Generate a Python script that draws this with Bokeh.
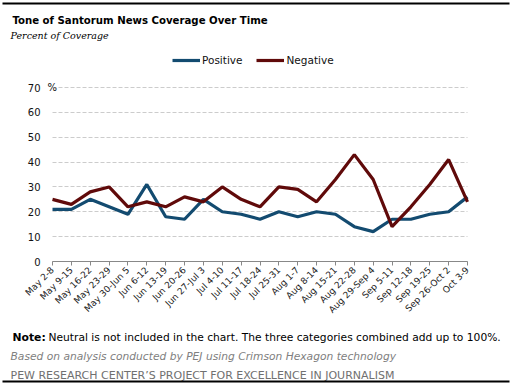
import math
from bokeh.plotting import figure
from bokeh.models import (Range1d, Label, Legend, LegendItem, FixedTicker,
                          ColumnDataSource, BoxAnnotation)
from bokeh.embed import file_html
from bokeh.resources import INLINE

weeks = ["May 2-8", "May 9-15", "May 16-22", "May 23-29", "May 30-Jun 5",
         "Jun 6-12", "Jun 13-19", "Jun 20-26", "Jun 27-Jul 3", "Jul 4-10",
         "Jul 11-17", "Jul 18-24", "Jul 25-31", "Aug 1-7", "Aug 8-14",
         "Aug 15-21", "Aug 22-28", "Aug 29-Sep 4", "Sep 5-11", "Sep 12-18",
         "Sep 19-25", "Sep 26-Oct 2", "Oct 3-9"]
positive = [21, 21, 25, 22, 19, 31, 18, 17, 25, 20, 19, 17, 20, 18, 20,
            19, 14, 12, 17, 17, 19, 20, 26]
negative = [25, 23, 28, 30, 22, 24, 22, 26, 24, 30, 25, 22, 30, 29, 24,
            33, 43, 33, 14, 22, 31, 41, 24]
y_ticks = [0, 10, 20, 30, 40, 50, 60, 70]

W, H = 513, 387
FONT = "DejaVu Sans"

# plot area in canvas pixels
PL, PR, PT, PB = 52, 467, 87, 261
n = len(weeks)
ymax = y_ticks[-1]
sx = (PR - PL) / (n - 1)
sy = (PB - PT) / ymax
x_range = Range1d(0 - PL / sx, (n - 1) + (W - PR) / sx)
y_range = Range1d(0 - (H - PB) / sy, ymax + PT / sy)

p = figure(width=W, height=H, output_backend="svg", toolbar_location=None,
           x_range=x_range, y_range=y_range,
           min_border_left=0, min_border_right=0, min_border_top=0,
           min_border_bottom=0)
p.title.visible = False
p.outline_line_color = None
p.background_fill_color = "white"
p.border_fill_color = "white"

xs = list(range(n))
src = ColumnDataSource(dict(x=xs, pos=positive, neg=negative))
r_pos = p.line("x", "pos", source=src, line_color="#134B70", line_width=3.2)
r_neg = p.line("x", "neg", source=src, line_color="#600A0A", line_width=3.2)

# axes fixed inside the canvas
p.xaxis.fixed_location = 0
p.xaxis.bounds = (0, n - 1)
p.xaxis.ticker = FixedTicker(ticks=xs)
p.xaxis.major_label_overrides = {i: w for i, w in enumerate(weeks)}
p.xaxis.major_label_orientation = math.pi / 4
p.xaxis.major_label_text_font = FONT
p.xaxis.major_label_text_font_size = "9px"
p.xaxis.major_label_text_color = "#222222"
p.xaxis.axis_line_color = "#888888"
p.xaxis.major_tick_line_color = "#888888"
p.xaxis.major_tick_out = 4
p.xaxis.major_tick_in = 0
p.xaxis.minor_tick_line_color = None
p.xaxis.major_label_standoff = 3

p.yaxis.fixed_location = 0
p.yaxis.bounds = (0, ymax)
p.yaxis.ticker = FixedTicker(ticks=y_ticks)
p.yaxis.axis_line_color = None
p.yaxis.major_tick_line_color = None
p.yaxis.major_tick_out = 0
p.yaxis.major_tick_in = 0
p.yaxis.minor_tick_line_color = None
p.yaxis.major_label_standoff = 12
p.yaxis.major_label_text_font = FONT
p.yaxis.major_label_text_font_size = "10px"
p.yaxis.major_label_text_color = "#111111"

p.xgrid.grid_line_color = None
p.ygrid.bounds = (0, ymax)
p.ygrid.cross_bounds = (0, n - 1)
p.ygrid.grid_line_color = "#cccccc"
p.ygrid.grid_line_dash = "4 2"
p.ygrid.grid_line_width = 1

# "%" after 70
p.add_layout(Label(x=47, y=ymax, x_units="screen", y_units="data", text="%",
                   text_font=FONT, text_font_size="10px", text_color="#111111",
                   text_baseline="middle", text_align="left"))

legend = Legend(items=[LegendItem(label="Positive", renderers=[r_pos]),
                       LegendItem(label="Negative", renderers=[r_neg])],
                orientation="horizontal", location=(172, H - 66),
                label_text_font=FONT, label_text_font_size="10.5px",
                label_text_color="#111111", glyph_width=28, glyph_height=12,
                label_standoff=2, spacing=14, padding=0, margin=0,
                background_fill_alpha=0, border_line_color=None,
                label_height=12)
p.add_layout(legend, "center")

def txt(x, y_top, text, size, color="#000000", style="normal", font=FONT):
    p.add_layout(Label(x=x, y=H - y_top, x_units="screen", y_units="screen",
                       text=text, text_font=font, text_font_size=size,
                       text_color=color, text_font_style=style,
                       text_baseline="alphabetic", text_align="left"))

txt(12, 20, "Tone of Santorum News Coverage Over Time", "11.3px", style="bold",
    font="DejaVu Sans Condensed")
txt(10, 35, "Percent of Coverage", "9.5px", style="italic", font="DejaVu Serif")
txt(12, 337, "Note:", "10.8px", style="bold")
txt(48, 337, "Neutral is not included in the chart. The three categories combined add up to 100%.",
    "10.7px")
txt(10, 356, "Based on analysis conducted by PEJ using Crimson Hexagon technology",
    "10.7px", color="#808080", style="italic")
txt(10, 375, "PEW RESEARCH CENTER\u2019S PROJECT FOR EXCELLENCE IN JOURNALISM",
    "11px", color="#707070")

# top and bottom rules
for top in (2, 380):
    p.add_layout(BoxAnnotation(left=2, right=509, top=H - top, bottom=H - top - 2,
                               left_units="screen", right_units="screen",
                               top_units="screen", bottom_units="screen",
                               fill_color="black", fill_alpha=1, line_color=None))

open("out.html", "w").write(file_html(p, INLINE))
